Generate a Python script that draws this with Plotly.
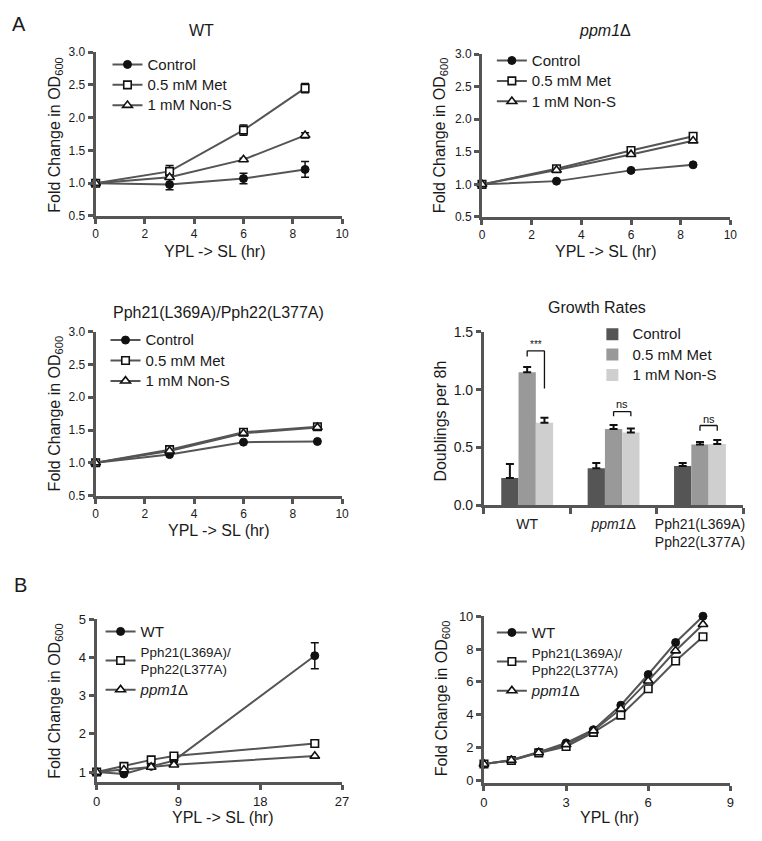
import plotly.graph_objects as go

# ---------------- data ----------------
conditions = ["Control", "0.5 mM Met", "1 mM Non-S"]

# Panel A: WT
time_a = [0, 3, 6, 8.5]
wt_control = [1.00, 0.98, 1.07, 1.21]
wt_control_err = [0.00, 0.08, 0.08, 0.12]
wt_met = [1.00, 1.18, 1.81, 2.45]
wt_met_err = [0.00, 0.09, 0.08, 0.07]
wt_nons = [1.00, 1.09, 1.36, 1.73]
wt_nons_err = [0.00, 0.02, 0.02, 0.04]

# Panel A: ppm1 delta
ppm1_control = [1.00, 1.05, 1.215, 1.30]
ppm1_met = [1.00, 1.24, 1.52, 1.74]
ppm1_nons = [1.00, 1.22, 1.46, 1.67]

# Panel A: Pph21/Pph22
time_pph = [0, 3, 6, 9]
pph_control = [1.00, 1.125, 1.315, 1.325]
pph_met = [1.00, 1.20, 1.465, 1.55]
pph_nons = [1.00, 1.18, 1.45, 1.54]

# Panel A: growth rates
strains = ["WT", "<i>ppm1</i>Δ", "Pph21(L369A)<br>Pph22(L377A)"]
rate_control = [0.237, 0.32, 0.34]
rate_control_err = [0.12, 0.045, 0.025]
rate_met = [1.15, 0.66, 0.525]
rate_met_err = [0.045, 0.035, 0.022]
rate_nons = [0.714, 0.63, 0.53]
rate_nons_err = [0.043, 0.033, 0.035]
sig_labels = ["***", "ns", "ns"]
sig_top = [1.335, 0.81, 0.69]
sig_left_foot = [1.287, 0.77, 0.645]
sig_right_foot = [1.01, 0.77, 0.645]
sig_text_y = [1.39, 0.875, 0.75]

# Panel B
strain_names_b = ["WT", "Pph21(L369A)/<br>Pph22(L377A)", "<i>ppm1</i>Δ"]
time_b1 = [0, 3, 6, 8.5, 24]
b1_wt = [1.00, 0.95, 1.15, 1.30, 4.05]
b1_wt_err = [0.00, 0.03, 0.03, 0.03, 0.34]
b1_pph = [1.00, 1.15, 1.32, 1.42, 1.75]
b1_ppm1 = [1.00, 1.06, 1.13, 1.19, 1.42]

time_b2 = [0, 1, 2, 3, 4, 5, 6, 7, 8]
b2_wt = [1.00, 1.25, 1.73, 2.29, 3.09, 4.58, 6.45, 8.40, 10.00]
b2_pph = [1.00, 1.22, 1.68, 2.07, 2.93, 3.98, 5.58, 7.27, 8.75]
b2_ppm1 = [1.00, 1.23, 1.70, 2.19, 3.03, 4.36, 6.06, 7.90, 9.50]

# ---------------- styling ----------------
W, H = 762, 841
FONT = "Liberation Sans, Arial, Helvetica, sans-serif"
TXT = "#1a1a1a"
AXC = "#555555"
LINEC = "#555555"
BAR_COLORS = ["#555555", "#999999", "#cfcfcf"]


def fx(p):
    return p / W


def fy(p):
    return 1 - p / H


MARKERS = [
    dict(symbol="circle", size=8, color="#111111", line=dict(color="#111111", width=1)),
    dict(symbol="square", size=7.5, color="white", line=dict(color="#111111", width=1.6)),
    dict(symbol="triangle-up", size=8.5, color="white", line=dict(color="#111111", width=1.6)),
]


def big(label):
    return '<span style="font-size:15px">' + label + "</span>"


fig = go.Figure()


def add_series(n, x, y, style_idx, name, legend, err=None):
    sfx = "" if n == 1 else str(n)
    kw = {}
    if err is not None:
        kw["error_y"] = dict(type="data", array=err, color="#111111", thickness=1.5, width=4, visible=True)
    fig.add_trace(go.Scatter(
        x=x, y=y, mode="lines+markers", name=name,
        line=dict(color=LINEC, width=2),
        marker=MARKERS[style_idx],
        xaxis="x" + sfx, yaxis="y" + sfx,
        legend=legend, cliponaxis=False, **kw))


# Panel 1 WT
add_series(1, time_a, wt_control, 0, big(conditions[0]), "legend", wt_control_err)
add_series(1, time_a, wt_met, 1, big(conditions[1]), "legend", wt_met_err)
add_series(1, time_a, wt_nons, 2, big(conditions[2]), "legend", wt_nons_err)
# Panel 2 ppm1
add_series(2, time_a, ppm1_control, 0, big(conditions[0]), "legend2")
add_series(2, time_a, ppm1_met, 1, big(conditions[1]), "legend2")
add_series(2, time_a, ppm1_nons, 2, big(conditions[2]), "legend2")
# Panel 3 Pph
add_series(3, time_pph, pph_control, 0, big(conditions[0]), "legend3")
add_series(3, time_pph, pph_met, 1, big(conditions[1]), "legend3")
add_series(3, time_pph, pph_nons, 2, big(conditions[2]), "legend3")

# Panel 4 bars
for vals, errs, col, lab in [(rate_control, rate_control_err, BAR_COLORS[0], conditions[0]),
                             (rate_met, rate_met_err, BAR_COLORS[1], conditions[1]),
                             (rate_nons, rate_nons_err, BAR_COLORS[2], conditions[2])]:
    fig.add_trace(go.Bar(
        x=strains, y=vals, name=big(lab), marker=dict(color=col, line=dict(width=0)),
        error_y=dict(type="data", symmetric=False, array=errs, arrayminus=[0] * len(errs),
                     color="#111111", thickness=2, width=4),
        xaxis="x4", yaxis="y4", legend="legend4"))

# Panel 5 B left
add_series(5, time_b1, b1_wt, 0, big(strain_names_b[0]), "legend5", b1_wt_err)
add_series(5, time_b1, b1_pph, 1, strain_names_b[1], "legend5")
add_series(5, time_b1, b1_ppm1, 2, big(strain_names_b[2]), "legend5")
# Panel 6 B right
add_series(6, time_b2, b2_wt, 0, big(strain_names_b[0]), "legend6")
add_series(6, time_b2, b2_pph, 1, strain_names_b[1], "legend6")
add_series(6, time_b2, b2_ppm1, 2, big(strain_names_b[2]), "legend6")

# ---------------- axes ----------------
AX = dict(showline=True, linecolor=AXC, linewidth=3, ticks="outside", ticklen=5,
          tickwidth=2.5, tickcolor=AXC, showgrid=False, zeroline=False,
          fixedrange=True)

panels = {
    1: dict(x=(93, 343), y=(212, 45), xr=[0, 10], yr=[0.5, 3.0]),
    2: dict(x=(485, 737), y=(213, 47), xr=[0, 10], yr=[0.5, 3.0]),
    3: dict(x=(93, 343), y=(497, 330), xr=[0, 10], yr=[0.5, 3.0]),
    5: dict(x=(94, 343), y=(789, 623.3), xr=[0, 27], yr=[0.74, 5]),
    6: dict(x=(487, 737), y=(790, 620), xr=[0, 9], yr=[-0.15, 10]),
}
layout = {}
for n, p in panels.items():
    sfx = "" if n == 1 else str(n)
    tsize = 12 if n in (1, 2, 3) else 13
    xa = dict(AX, domain=[fx(p["x"][0]), fx(p["x"][1])], range=p["xr"], anchor="y" + sfx,
              tickfont=dict(family=FONT, size=tsize, color=TXT))
    ya = dict(AX, domain=[fy(p["y"][0]), fy(p["y"][1])], range=p["yr"], anchor="x" + sfx,
              tickfont=dict(family=FONT, size=tsize, color=TXT))
    if n in (1, 2, 3):
        xa.update(tickvals=[0, 2, 4, 6, 8, 10])
        ya.update(tickvals=[0.5, 1.0, 1.5, 2.0, 2.5, 3.0], tickformat=".1f")
    elif n == 5:
        xa.update(tickvals=[0, 9, 18, 27])
        ya.update(tickvals=[1, 2, 3, 4, 5])
    else:
        xa.update(tickvals=[0, 3, 6, 9])
        ya.update(tickvals=[0, 2, 4, 6, 8, 10])
    layout["xaxis" + sfx] = xa
    layout["yaxis" + sfx] = ya

layout["xaxis4"] = dict(AX, domain=[fx(487), fx(750)], type="category", range=[-0.5, 2.5],
                        tickson="boundaries", ticklen=6, anchor="y4", tickangle=0,
                        ticklabelstandoff=4,
                        tickfont=dict(family=FONT, size=14, color=TXT))
layout["yaxis4"] = dict(AX, domain=[fy(507), fy(330)], range=[0, 1.5], anchor="x4",
                        tickvals=[0, 0.5, 1.0, 1.5], tickformat=".1f",
                        tickfont=dict(family=FONT, size=14, color=TXT))


def legend_cfg(xp, yp):
    return dict(x=fx(xp), y=fy(yp), xanchor="left", yanchor="top", bgcolor="rgba(0,0,0,0)",
                borderwidth=0, font=dict(family=FONT, size=13.4, color=TXT),
                traceorder="normal", itemclick=False, itemdoubleclick=False, valign="middle")


layout["legend"] = legend_cfg(105, 42)
layout["legend2"] = legend_cfg(495, 38)
layout["legend3"] = legend_cfg(103, 323)
layout["legend4"] = legend_cfg(597, 317)
layout["legend5"] = legend_cfg(98, 620)
layout["legend6"] = legend_cfg(495, 621)

fig.update_layout(
    width=W, height=H, margin=dict(l=0, r=0, t=0, b=0),
    paper_bgcolor="white", plot_bgcolor="white",
    font=dict(family=FONT, color=TXT),
    barmode="group", bargap=0.4, bargroupgap=0,
    showlegend=True,
    **layout)

# ---------------- annotations (titles & labels) ----------------
ann = []


def text(xp, yp, s, size=16, angle=0, xanchor="center"):
    ann.append(dict(x=fx(xp), y=fy(yp), xref="paper", yref="paper", text=s, showarrow=False,
                    textangle=angle, xanchor=xanchor, yanchor="middle",
                    font=dict(family=FONT, size=size, color=TXT)))


text(15, 16, "A", size=20)
text(17, 588, "B", size=20)
text(200, 23, "WT")
text(610, 23, "<i>ppm1</i>Δ")
text(218, 310, "Pph21(L369A)/Pph22(L377A)")
text(602, 305, "Growth Rates")

ytitle = "Fold Change in OD<sub>600</sub>"
text(52, 129, ytitle, angle=-90)
text(443, 130, ytitle, angle=-90)
text(52, 413, ytitle, angle=-90)
text(443, 421, "Doublings per 8h", angle=-90)
text(52, 706, ytitle, angle=-90)
text(445, 704, ytitle, angle=-90)

text(214, 248, "YPL -> SL (hr)")
text(611, 248, "YPL -> SL (hr)")
text(218, 533, "YPL -> SL (hr)")
text(222, 825, "YPL -> SL (hr)")
text(614, 825, "YPL (hr)")

# significance brackets in bar chart (x in category index units)
shapes = []
for i in range(3):
    xl, xr = i + 0.0, i + 0.2
    for (x0, y0, x1, y1) in [(xl, sig_left_foot[i], xl, sig_top[i]),
                             (xl, sig_top[i], xr, sig_top[i]),
                             (xr, sig_top[i], xr, sig_right_foot[i])]:
        shapes.append(dict(type="line", xref="x4", yref="y4", x0=x0, y0=y0, x1=x1, y1=y1,
                           line=dict(color="#111111", width=1.3)))
    ann.append(dict(x=i + 0.1, y=sig_text_y[i], xref="x4", yref="y4", text=sig_labels[i],
                    showarrow=False, font=dict(family=FONT, size=10 if i == 0 else 11, color="#111111")))

fig.update_layout(annotations=ann, shapes=shapes)

fig.write_html("out.html", config={"displayModeBar": False},
               post_script="document.body.style.margin='0';")
